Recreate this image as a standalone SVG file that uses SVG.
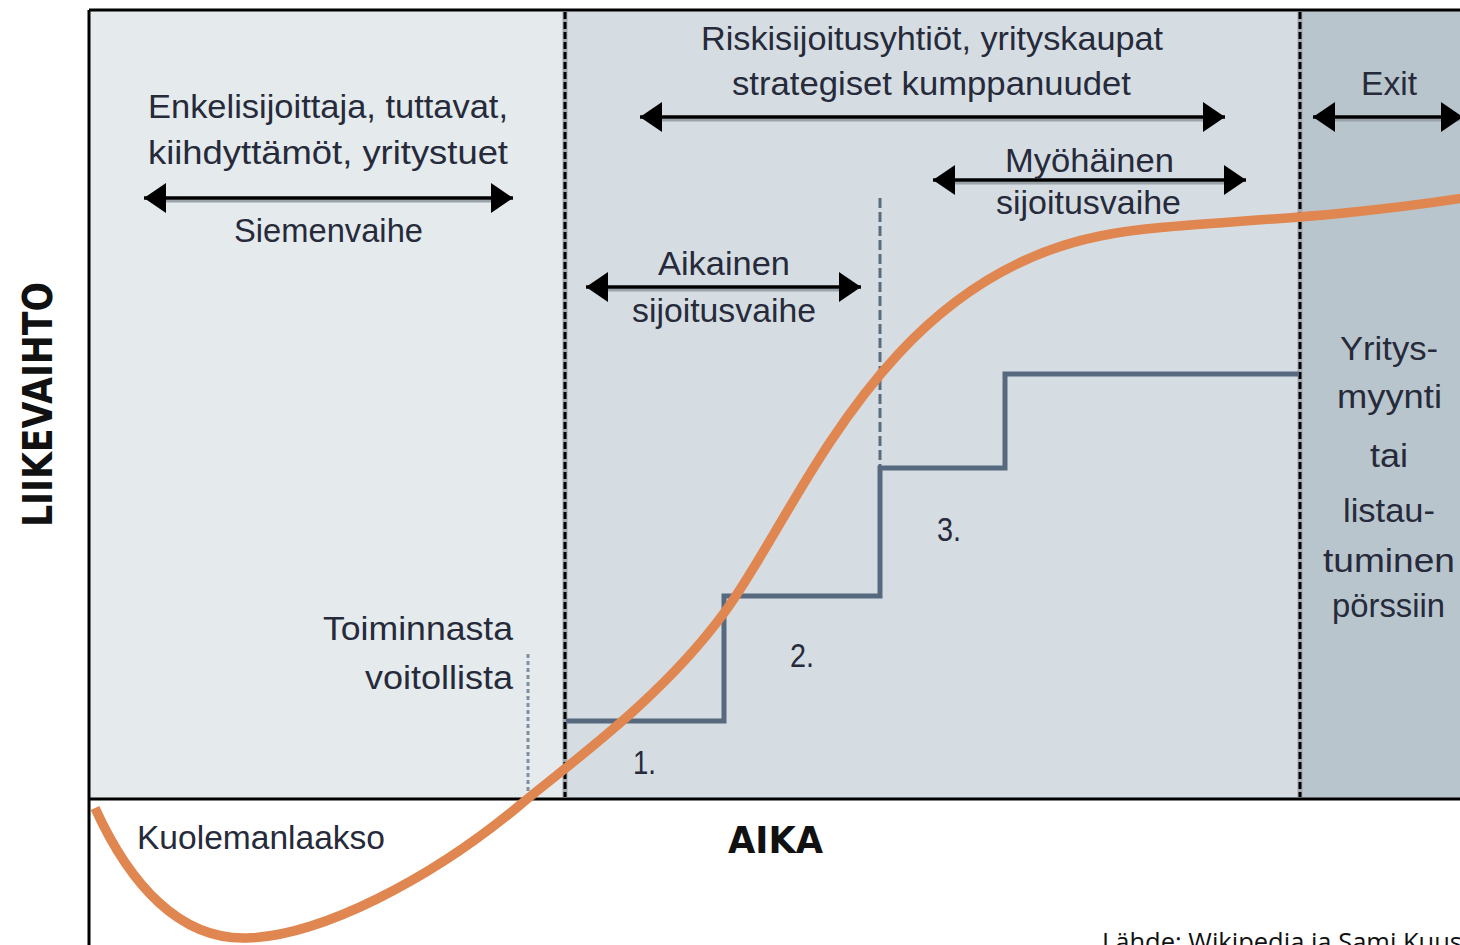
<svg xmlns="http://www.w3.org/2000/svg" width="1460" height="945" viewBox="0 0 1460 945">
<defs>
<style>
.t{font-family:"Liberation Sans Narrow","Liberation Sans",sans-serif;font-size:33px;fill:#262a3a}
.b{font-family:"DejaVu Sans",Verdana,sans-serif;font-weight:bold;fill:#111}
.arr{stroke:#000;stroke-width:3.5;fill:none}
.sh{stroke:#9aa3aa;stroke-width:3;fill:none}
.frame{stroke:#000;stroke-width:3;fill:none}
.vdash{stroke:#000;stroke-width:3;stroke-dasharray:7 3;fill:none}
.vhalo{stroke:#a3a9ae;stroke-width:5;fill:none}
.step{stroke:#56697e;stroke-width:5;fill:none;stroke-linejoin:miter}
</style>
<marker id="ah" markerUnits="userSpaceOnUse" markerWidth="24" markerHeight="32" refX="22" refY="15" orient="auto-start-reverse" viewBox="0 0 24 32">
<path d="M0,0 L22,15 L0,30 z" fill="#000"/>
</marker>
</defs>

<g id="background">
<rect x="89" y="10" width="476" height="789" fill="#e5eaed"/>
<rect x="565" y="10" width="735" height="789" fill="#d5dde2"/>
<rect x="1300" y="10" width="160" height="789" fill="#b9c5cd"/>
</g>

<g id="frame">
<line class="frame" x1="89" y1="10" x2="1460" y2="10"/>
<line class="frame" x1="89" y1="10" x2="89" y2="945"/>
<line class="frame" x1="89" y1="799" x2="1460" y2="799"/>
<line class="vhalo" x1="565" y1="12" x2="565" y2="797"/>
<line class="vdash" x1="565" y1="12" x2="565" y2="797"/>
<line class="vhalo" x1="1300" y1="12" x2="1300" y2="797"/>
<line class="vdash" x1="1300" y1="12" x2="1300" y2="797"/>
<line x1="880" y1="198" x2="880" y2="466" stroke="#5a6d80" stroke-width="3" stroke-dasharray="10 4"/>
<line x1="528" y1="654" x2="528" y2="797" stroke="#7f90a0" stroke-width="3" stroke-dasharray="4 3"/>
</g>

<g id="connectors">
<path class="step" d="M566,721 H724 V596 H880 V468 H1005 V374 H1299"/>
<line class="sh" x1="165" y1="201" x2="492" y2="201"/>
<line class="arr" x1="144" y1="198" x2="513" y2="198" marker-start="url(#ah)" marker-end="url(#ah)"/>
<line class="sh" x1="662" y1="120" x2="1203" y2="120"/>
<line class="arr" x1="640" y1="117" x2="1225" y2="117" marker-start="url(#ah)" marker-end="url(#ah)"/>
<line class="sh" x1="955" y1="183" x2="1224" y2="183"/>
<line class="arr" x1="933" y1="180" x2="1246" y2="180" marker-start="url(#ah)" marker-end="url(#ah)"/>
<line class="sh" x1="607" y1="290" x2="840" y2="290"/>
<line class="arr" x1="586" y1="287" x2="861" y2="287" marker-start="url(#ah)" marker-end="url(#ah)"/>
<line class="sh" x1="1335" y1="120" x2="1460" y2="120"/>
<line class="arr" x1="1313" y1="117" x2="1463" y2="117" marker-start="url(#ah)" marker-end="url(#ah)"/>
<path d="M95,808 C130,885 180,940 247,938 C320,936 430,880 520,805 C570,763 660,700 724,613 C800,510 880,280 1100,236 C1180,220 1300,224 1470,197" stroke="#e08650" stroke-width="9.5" fill="none"/>
</g>

<g id="seed">
<text class="t" x="148" y="118" textLength="360" lengthAdjust="spacingAndGlyphs">Enkelisijoittaja, tuttavat,</text>
<text class="t" x="148" y="164" textLength="360" lengthAdjust="spacingAndGlyphs">kiihdyttämöt, yritystuet</text>
<text class="t" x="234" y="242" textLength="189" lengthAdjust="spacingAndGlyphs">Siemenvaihe</text>
</g>

<g id="venture">
<text class="t" x="701" y="50" textLength="462" lengthAdjust="spacingAndGlyphs">Riskisijoitusyhtiöt, yrityskaupat</text>
<text class="t" x="732" y="95" textLength="399" lengthAdjust="spacingAndGlyphs">strategiset kumppanuudet</text>
</g>

<g id="late">
<text class="t" x="1005" y="172" textLength="169" lengthAdjust="spacingAndGlyphs">Myöhäinen</text>
<text class="t" x="996" y="214" textLength="185" lengthAdjust="spacingAndGlyphs">sijoitusvaihe</text>
</g>

<g id="early">
<text class="t" x="658" y="275" textLength="132" lengthAdjust="spacingAndGlyphs">Aikainen</text>
<text class="t" x="632" y="322" textLength="184" lengthAdjust="spacingAndGlyphs">sijoitusvaihe</text>
</g>

<g id="exit">
<text class="t" x="1361" y="95" textLength="56" lengthAdjust="spacingAndGlyphs">Exit</text>
<text class="t" x="1340" y="360" textLength="98" lengthAdjust="spacingAndGlyphs">Yritys-</text>
<text class="t" x="1337" y="408" textLength="105" lengthAdjust="spacingAndGlyphs">myynti</text>
<text class="t" x="1370" y="467" textLength="38" lengthAdjust="spacingAndGlyphs">tai</text>
<text class="t" x="1343" y="522" textLength="92" lengthAdjust="spacingAndGlyphs">listau-</text>
<text class="t" x="1323" y="572" textLength="132" lengthAdjust="spacingAndGlyphs">tuminen</text>
<text class="t" x="1332" y="617" textLength="113" lengthAdjust="spacingAndGlyphs">pörssiin</text>
</g>

<g id="profit">
<text class="t" x="323" y="640" textLength="190" lengthAdjust="spacingAndGlyphs">Toiminnasta</text>
<text class="t" x="365" y="689" textLength="148" lengthAdjust="spacingAndGlyphs">voitollista</text>
</g>

<g id="steps">
<text class="t" x="633" y="774" textLength="23" lengthAdjust="spacingAndGlyphs">1.</text>
<text class="t" x="790" y="667" textLength="24" lengthAdjust="spacingAndGlyphs">2.</text>
<text class="t" x="937" y="541" textLength="24" lengthAdjust="spacingAndGlyphs">3.</text>
</g>

<g id="valley">
<text class="t" x="137" y="849" textLength="248" lengthAdjust="spacingAndGlyphs">Kuolemanlaakso</text>
</g>

<g id="axes">
<text class="b" x="728" y="853" font-size="37" textLength="95" lengthAdjust="spacingAndGlyphs">AIKA</text>
<text class="b" font-size="40" text-anchor="middle" transform="translate(52,404.5) rotate(-90)" textLength="245" lengthAdjust="spacingAndGlyphs">LIIKEVAIHTO</text>
</g>

<g id="source">
<text x="1102" y="951" font-family="'Open Sans','Liberation Sans',sans-serif" font-size="25.5" fill="#111">Lähde: Wikipedia ja Sami Kuus</text>
</g>
</svg>
